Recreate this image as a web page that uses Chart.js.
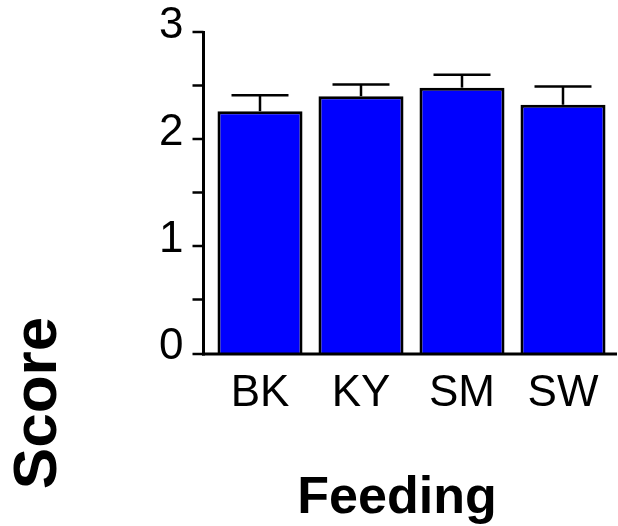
<!DOCTYPE html>
<html>
<head>
<meta charset="utf-8">
<script src="https://cdn.jsdelivr.net/npm/chart.js@4/dist/chart.umd.min.js"></script>
<style>
  html, body { margin: 0; padding: 0; background: #ffffff; }
  #wrap { width: 618px; height: 526px; }
</style>
</head>
<body>
<div id="wrap"><canvas id="c" width="618" height="526"></canvas></div>
<script>
// Feeding groups and mean scores with their standard errors
const categories = ['BK', 'KY', 'SM', 'SW'];
const meanScores = [2.26, 2.40, 2.48, 2.32];
const errorValues = [0.15, 0.11, 0.12, 0.17];
const yTicks = [0, 0.5, 1, 1.5, 2, 2.5, 3];
const xTitle = 'Feeding';
const yTitle = 'Score';

const FONT = '"Liberation Sans", Arial, Helvetica, sans-serif';

// Draws error bars, the axis lines with their tick marks and the axis titles
const prismAxes = {
  id: 'prismAxes',
  afterDatasetsDraw(chart) {
    const ctx = chart.ctx;
    const ys = chart.scales.y;
    const meta = chart.getDatasetMeta(0);

    ctx.save();
    ctx.strokeStyle = '#000000';
    ctx.lineCap = 'butt';

    // error bars (upper half only)
    meta.data.forEach((bar, i) => {
      const top = ys.getPixelForValue(meanScores[i] + errorValues[i]);
      const base = ys.getPixelForValue(meanScores[i]);
      const half = bar.width * 0.335;
      ctx.lineWidth = 2.5;
      ctx.beginPath();
      ctx.moveTo(bar.x, base);
      ctx.lineTo(bar.x, top);
      ctx.stroke();
      ctx.beginPath();
      ctx.moveTo(bar.x - half, top);
      ctx.lineTo(bar.x + half, top);
      ctx.stroke();
    });

    // y axis line sits slightly left of the first category
    const axisX = chart.chartArea.left - 6;
    const y0 = ys.getPixelForValue(0) + 1;
    const yMax = ys.getPixelForValue(3);
    ctx.lineWidth = 3;
    ctx.beginPath();
    ctx.moveTo(axisX, yMax - 1);
    ctx.lineTo(axisX, y0 + 1.5);
    ctx.stroke();

    // tick marks
    ctx.lineWidth = 2.5;
    yTicks.forEach(v => {
      const py = v === 0 ? y0 : ys.getPixelForValue(v);
      ctx.beginPath();
      ctx.moveTo(axisX - 11, py);
      ctx.lineTo(axisX, py);
      ctx.stroke();
    });

    // x axis line
    ctx.lineWidth = 3;
    ctx.beginPath();
    ctx.moveTo(axisX - 1.5, y0);
    ctx.lineTo(chart.chartArea.right + 3.5, y0);
    ctx.stroke();

    // axis titles
    ctx.fillStyle = '#000000';
    ctx.font = 'bold 52px ' + FONT;
    ctx.textAlign = 'center';
    ctx.textBaseline = 'alphabetic';
    ctx.fillText(xTitle, 397, 513);

    ctx.translate(56, 403);
    ctx.rotate(-Math.PI / 2);
    ctx.font = 'bold 62px ' + FONT;
    ctx.fillText(yTitle, 0, 0);
    ctx.restore();
  }
};

new Chart(document.getElementById('c'), {
  type: 'bar',
  data: {
    labels: categories,
    datasets: [{
      data: meanScores,
      backgroundColor: '#0000ff',
      borderColor: '#000000',
      borderWidth: 3,
      borderSkipped: 'start',
      categoryPercentage: 1,
      barPercentage: 0.842
    }]
  },
  options: {
    responsive: false,
    animation: false,
    devicePixelRatio: 1,
    layout: { padding: { top: 32, right: 4.5, left: 0, bottom: 0 } },
    plugins: {
      legend: { display: false },
      tooltip: { enabled: false },
      title: { display: false }
    },
    scales: {
      x: {
        grid: { display: false },
        border: { display: false },
        ticks: {
          color: '#000000',
          font: { family: FONT, size: 44 },
          padding: 6,
          maxRotation: 0,
          autoSkip: false
        },
        afterFit(scale) {
          scale.height = 173;
          scale.paddingLeft = 0;
          scale.paddingRight = 0;
        }
      },
      y: {
        min: 0,
        max: 3,
        grid: { display: false },
        border: { display: false },
        ticks: {
          stepSize: 0.5,
          color: '#000000',
          font: { family: FONT, size: 44 },
          padding: 18,
          labelOffset: -6,
          callback: (v) => Number.isInteger(v) ? String(v) : ''
        },
        afterFit(scale) {
          scale.width = 209.5;
          scale.paddingTop = 0;
          scale.paddingBottom = 0;
        }
      }
    }
  },
  plugins: [prismAxes]
});
</script>
</body>
</html>
